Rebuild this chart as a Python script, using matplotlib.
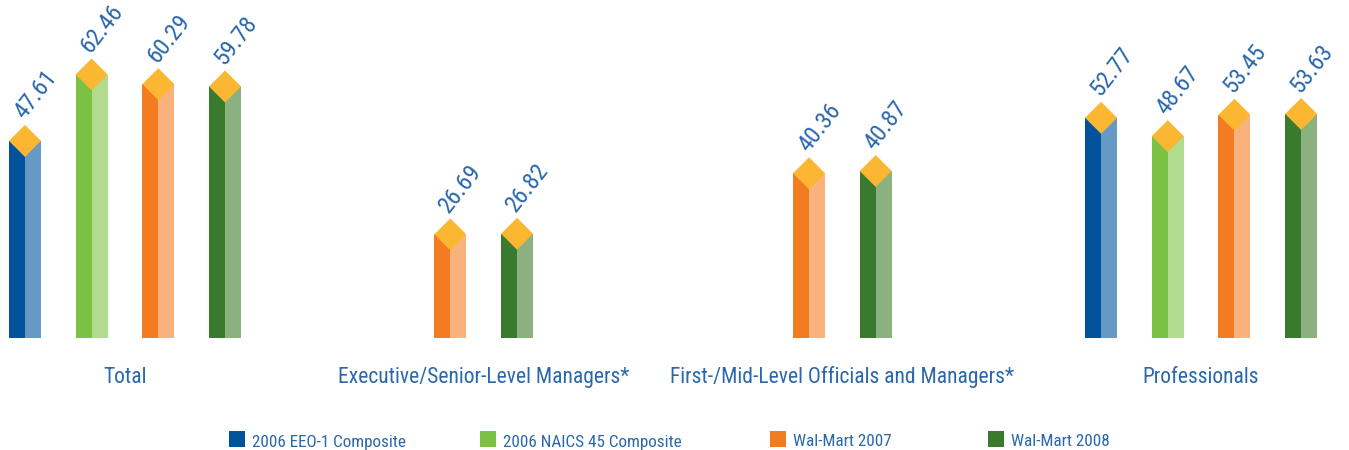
import matplotlib
matplotlib.use("Agg")
import matplotlib.pyplot as plt
from matplotlib.patches import Polygon, Rectangle

categories = ["Total", "Executive/Senior-Level Managers*",
              "First-/Mid-Level Officials and Managers*", "Professionals"]
series_names = ["2006 EEO-1 Composite", "2006 NAICS 45 Composite",
                "Wal-Mart 2007", "Wal-Mart 2008"]
eeo1_2006 = [47.61, None, None, 52.77]
naics45_2006 = [62.46, None, None, 48.67]
walmart_2007 = [60.29, 26.69, 40.36, 53.45]
walmart_2008 = [59.78, 26.82, 40.87, 53.63]
series_values = [eeo1_2006, naics45_2006, walmart_2007, walmart_2008]

dark_colors = ["#00539b", "#7bc143", "#f47c20", "#3a7a2e"]
light_colors = ["#6699c6", "#b1db8d", "#f9b27b", "#8ab17f"]
diamond_color = "#fbb731"
text_blue = "#2a67ab"

plt.rcParams["font.family"] = ["Roboto Condensed", "DejaVu Sans"]
WEIGHT = "normal"

W, H, DPI = 1349, 450, 100
fig = plt.figure(figsize=(W / DPI, H / DPI), dpi=DPI)
base_px = 337.7
ax = fig.add_axes([0, (H - base_px) / H, 1, base_px / H])
px_per_unit = 4.47
ymax = base_px / px_per_unit
ax.set_ylim(0, ymax)
group_px = 358.7
first_px = 125
ax.set_xlim(-first_px / group_px, (W - first_px) / group_px)
ax.axis("off")

slot = 66.7 / group_px
bar_w = 32 / group_px
half_dy = 16 / px_per_unit  # diamond half height in data units
lab_dx = -1 / group_px

for g in range(len(categories)):
    present = [s for s in range(len(series_values)) if series_values[s][g] is not None]
    n = len(present)
    for k, s in enumerate(present):
        v = series_values[s][g]
        xc = g + (k - (n - 1) / 2) * slot
        side = v - half_dy
        ax.bar(xc - bar_w / 2, side, width=bar_w / 2, align="edge",
               color=dark_colors[s], linewidth=0)
        ax.bar(xc, side, width=bar_w / 2, align="edge",
               color=light_colors[s], linewidth=0)
        ax.add_patch(Polygon([(xc, v), (xc + bar_w / 2, v - half_dy),
                              (xc, v - 2 * half_dy), (xc - bar_w / 2, v - half_dy)],
                             closed=True, facecolor=diamond_color, edgecolor="none"))
        ax.text(xc + lab_dx, v + 1.0, f"{v:.2f}", rotation=52,
                rotation_mode="anchor", ha="left", va="baseline",
                fontsize=17.5, color=text_blue, fontweight=WEIGHT)
    ax.text(g, -(383 - base_px) / px_per_unit, categories[g], ha="center",
            va="baseline", fontsize=15.5, color=text_blue, clip_on=False,
            fontweight=WEIGHT)

# legend
leg_x = [229, 480, 770, 988]
for s, name in enumerate(series_names):
    fig.add_artist(Rectangle((leg_x[s] / W, (H - 447) / H), 16 / W, 16 / H,
                             transform=fig.transFigure, facecolor=dark_colors[s],
                             edgecolor="none"))
    fig.text((leg_x[s] + 23) / W, (H - 446.5) / H, name, ha="left",
             va="baseline", fontsize=12.3, color=text_blue, fontweight=WEIGHT)

fig.savefig("out.png", dpi=DPI)
